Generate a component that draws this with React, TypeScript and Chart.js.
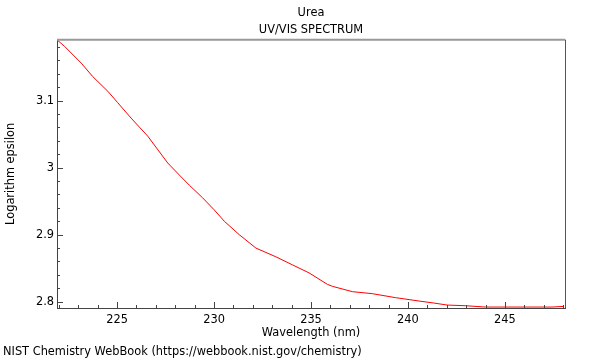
import React, { useEffect, useRef } from "react";
import { Chart, registerables } from "chart.js";

Chart.register(...registerables);

const TITLE = "Urea";
const SUBTITLE = "UV/VIS SPECTRUM";
const X_LABEL = "Wavelength (nm)";
const Y_LABEL = "Logarithm epsilon";
const FOOTER = "NIST Chemistry WebBook (https://webbook.nist.gov/chemistry)";

const wavelengths = [
  221.89, 222.29, 223.15, 223.74, 224.52, 225.03, 225.72, 226.58, 227.61, 228.21,
  228.72, 229.41, 230.01, 230.53, 231.3, 232.16, 233.19, 234.04, 234.9, 235.84,
  236.1, 237.13, 238.16, 239.37, 240.57, 241.34, 242.02, 242.97, 244.0, 245.03,
  247.43, 248.03,
];
const logEpsilon = [
  3.191, 3.181, 3.156, 3.136, 3.114, 3.097, 3.074, 3.047, 3.007, 2.989,
  2.974, 2.955, 2.937, 2.92, 2.9, 2.88, 2.867, 2.855, 2.843, 2.826,
  2.823, 2.815, 2.812, 2.806, 2.801, 2.798, 2.795, 2.794, 2.792, 2.792,
  2.792, 2.793,
];

const X_MIN = 221.9;
const X_MAX = 248.1;
const Y_MIN = 2.7906;
const Y_MAX = 3.191;
const X_MAJOR = 5;
const X_MINOR = 1;
const Y_MAJOR = 0.1;
const Y_MINOR = 0.02;

const FONT = "'DejaVu Sans', sans-serif";
const FS = 11.4;

const framePlugin = {
  id: "frame",
  afterDraw(chart: any) {
    const { ctx, chartArea, scales } = chart;
    const { left, right, top, bottom } = chartArea;
    const xs = scales.x;
    const ys = scales.y;
    ctx.save();
    // top border
    ctx.strokeStyle = "#999999";
    ctx.lineWidth = 2;
    ctx.beginPath();
    ctx.moveTo(left, top);
    ctx.lineTo(right, top);
    ctx.stroke();
    // right border
    ctx.strokeStyle = "#555555";
    ctx.lineWidth = 1;
    ctx.beginPath();
    ctx.moveTo(Math.round(right) + 0.5, top);
    ctx.lineTo(Math.round(right) + 0.5, bottom);
    ctx.stroke();
    // inward ticks
    ctx.strokeStyle = "#444444";
    ctx.lineWidth = 1;
    ctx.beginPath();
    const xStart = Math.ceil(X_MIN / X_MINOR);
    const xEnd = Math.floor(X_MAX / X_MINOR);
    for (let i = xStart; i <= xEnd; i++) {
      const v = i * X_MINOR;
      const px = Math.round(xs.getPixelForValue(v)) + 0.5;
      const major = Math.abs(v / X_MAJOR - Math.round(v / X_MAJOR)) < 1e-6;
      const len = major ? 6 : 3;
      ctx.moveTo(px, bottom);
      ctx.lineTo(px, bottom - len);
    }
    const yStart = Math.ceil(Y_MIN / Y_MINOR - 1e-6);
    const yEnd = Math.floor(Y_MAX / Y_MINOR + 1e-6);
    for (let i = yStart; i <= yEnd; i++) {
      const v = i * Y_MINOR;
      const py = Math.round(ys.getPixelForValue(v)) + 0.5;
      const major = Math.abs(v / Y_MAJOR - Math.round(v / Y_MAJOR)) < 1e-6;
      const len = major ? 6 : 3;
      ctx.moveTo(left, py);
      ctx.lineTo(left + len, py);
    }
    ctx.stroke();
    // footer
    ctx.fillStyle = "#000000";
    ctx.font = `${FS}px ${FONT}`;
    ctx.textAlign = "left";
    ctx.textBaseline = "middle";
    ctx.fillText(FOOTER, 3, 352);
    ctx.restore();
  },
};

export default function App() {
  const ref = useRef<HTMLCanvasElement | null>(null);

  useEffect(() => {
    if (!ref.current) return;
    Chart.defaults.font.family = FONT;
    Chart.defaults.font.size = FS;
    const points = wavelengths.map((w, i) => ({ x: w, y: logEpsilon[i] }));
    const chart = new Chart(ref.current, {
      type: "line",
      data: {
        datasets: [
          {
            data: points,
            borderColor: "#ff0000",
            borderWidth: 1,
            pointRadius: 0,
            tension: 0,
            fill: false,
          },
        ],
      },
      options: {
        animation: false,
        responsive: false,
        devicePixelRatio: 1,
        layout: { padding: { left: 0, right: 35, top: 0, bottom: 0 } },
        plugins: {
          legend: { display: false },
          tooltip: { enabled: false },
          title: {
            display: true,
            fullSize: false,
            text: TITLE,
            color: "#000000",
            font: { size: FS, weight: "normal", family: FONT, lineHeight: 1.2 },
            padding: { top: 6.5, bottom: 0 },
          },
          subtitle: {
            display: true,
            fullSize: false,
            text: SUBTITLE,
            color: "#000000",
            font: { size: FS, weight: "normal", family: FONT, lineHeight: 1.2 },
            padding: { top: 3, bottom: 2.8 },
          },
        },
        scales: {
          x: {
            type: "linear",
            position: "bottom",
            min: X_MIN,
            max: X_MAX,
            grid: { display: false, drawTicks: false },
            border: { display: true, color: "#444444", width: 1 },
            ticks: {
              stepSize: X_MAJOR,
              includeBounds: false,
              color: "#000000",
              padding: 5,
              maxRotation: 0,
              autoSkip: false,
              font: { size: FS, family: FONT },
            },
            title: {
              display: true,
              text: X_LABEL,
              color: "#000000",
              font: { size: FS, family: FONT },
              padding: { top: 0, bottom: 20.5 },
            },
            afterFit: (s: any) => {
              s.height = 52;
            },
          },
          y: {
            type: "linear",
            min: Y_MIN,
            max: Y_MAX,
            grid: { display: false, drawTicks: false },
            border: { display: true, color: "#444444", width: 1 },
            ticks: {
              stepSize: Y_MAJOR,
              includeBounds: false,
              color: "#000000",
              padding: 3,
              font: { size: FS, family: FONT },
              callback: (v: any) => String(Math.round(Number(v) * 10) / 10),
            },
            title: {
              display: true,
              text: Y_LABEL,
              color: "#000000",
              font: { size: FS, family: FONT },
              padding: { top: 4, bottom: 0 },
            },
            afterFit: (s: any) => {
              s.width = 57;
            },
          },
        },
      },
      plugins: [framePlugin],
    });
    return () => chart.destroy();
  }, []);

  return (
    <div style={{ position: "absolute", left: 0, top: 0, width: 600, height: 360, background: "#ffffff" }}>
      <canvas ref={ref} width={600} height={360} style={{ display: "block" }} />
    </div>
  );
}
